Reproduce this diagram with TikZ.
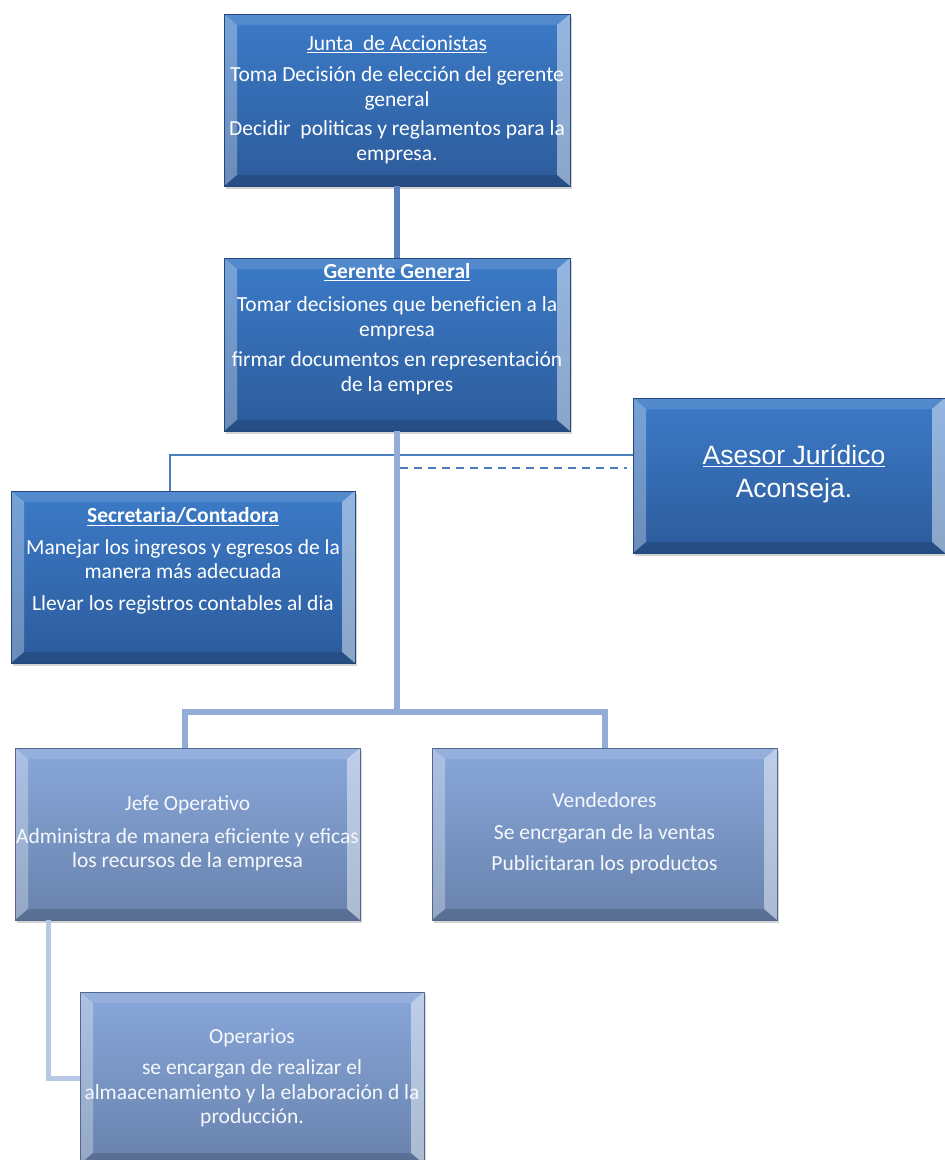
\documentclass[tikz,border=0pt]{standalone}
\usepackage{fontspec}
\setmainfont{Carlito}
\newfontfamily\arialfont{Liberation Sans}
\usetikzlibrary{positioning,shadows}

\definecolor{darktop}{HTML}{3C7BC8}
\definecolor{darkbot}{HTML}{2C5B9B}
\definecolor{lighttop}{HTML}{88A7DA}
\definecolor{lightbot}{HTML}{6882AC}
\definecolor{toplinkc}{HTML}{5B80BF}
\definecolor{trunkc}{HTML}{93ADD7}
\definecolor{sidec}{HTML}{B6C8E6}
\definecolor{thinc}{HTML}{4A7EBF}

\tikzset{
  bevel/.style={path picture={
    \path (path picture bounding box.north west) coordinate (a1)
          ([xshift=13pt,yshift=-11pt]path picture bounding box.north west) coordinate (a2)
          (path picture bounding box.north east) coordinate (b1)
          ([xshift=-13pt,yshift=-11pt]path picture bounding box.north east) coordinate (b2)
          (path picture bounding box.south east) coordinate (c1)
          ([xshift=-13pt,yshift=11pt]path picture bounding box.south east) coordinate (c2)
          (path picture bounding box.south west) coordinate (d1)
          ([xshift=13pt,yshift=11pt]path picture bounding box.south west) coordinate (d2);
    \fill[white,opacity=.12] (a1) -- (b1) -- (b2) -- (a2) -- cycle;
    \fill[white,opacity=.3] (a1) -- (a2) -- (d2) -- (d1) -- cycle;
    \fill[white,opacity=.45] (b1) -- (c1) -- (c2) -- (b2) -- cycle;
    \fill[black,opacity=.15] (d1) -- (d2) -- (c2) -- (c1) -- cycle;
  }},
  darkbox/.style={rectangle, bevel, top color=darktop, bottom color=darkbot,
    draw=darkbot!80!black, line width=.6pt, inner sep=0pt,
    drop shadow={opacity=.35, shadow xshift=2pt, shadow yshift=-3pt}},
  lightbox/.style={rectangle, bevel, top color=lighttop, bottom color=lightbot,
    draw=lightbot!80!black, line width=.6pt, inner sep=0pt,
    drop shadow={opacity=.35, shadow xshift=2pt, shadow yshift=-3pt}},
  boxtext/.style={align=center, text=white, inner sep=0pt, font=\fontsize{21.5}{24.5}\selectfont},
  lighttext/.style={boxtext, text=white!92!lighttop},
  toplink/.style={draw=toplinkc, line width=6pt},
  trunk/.style={draw=trunkc, line width=6pt},
  sidelink/.style={draw=sidec, line width=5pt},
  thinlink/.style={draw=thinc, line width=2pt},
  dashlink/.style={draw=thinc, line width=2.2pt, dash pattern=on 8pt off 6pt}
}

\begin{document}
\begin{tikzpicture}[x=1pt, y=-1pt]
\useasboundingbox (0,0) rectangle (945,1160);

% cajas
\node[darkbox, minimum width=346pt, minimum height=172pt] (junta) at (397,100) {};
\node[darkbox, minimum width=346pt, minimum height=173pt] (gerente) at (397,344.5) {};
\node[darkbox, minimum width=312pt, minimum height=155pt] (asesor) at (789,475.5) {};
\node[darkbox, minimum width=344pt, minimum height=172pt] (secretaria) at (183,577) {};
\node[lightbox, minimum width=345pt, minimum height=172pt] (jefe) at (187.5,834) {};
\node[lightbox, minimum width=345pt, minimum height=172pt] (vendedores) at (604.5,834) {};
\node[lightbox, minimum width=344pt, minimum height=172pt] (operarios) at (252,1078) {};

% textos
\node[boxtext] (juntaT) at (397,99.5) {\underline{Junta\ \ de Accionistas}\\[7pt]
  Toma Decisión de elección del gerente\\ general\\[5pt]
  Decidir\ \ politicas y reglamentos para la\\ empresa.};
\node[boxtext] (gerenteT) at (397,329) {\underline{\textbf{Gerente General}}\\[9pt]
  Tomar decisiones que beneficien a la\\ empresa\\[6pt]
  firmar documentos en representación\\ de la empres};
\node[boxtext, font=\arialfont\fontsize{26.5}{33}\selectfont] (asesorT) at (794,474)
  {\underline{Asesor Jurídico}\\ Aconseja.};
\node[boxtext] (secretariaT) at (183,561) {\underline{\textbf{Secretaria/Contadora}}\\[7pt]
  Manejar los ingresos y egresos de la\\ manera más adecuada\\[7pt]
  Llevar los registros contables al dia};
\node[lighttext] (jefeT) at (187.5,833.5) {Jefe Operativo\\[8pt]
  Administra de manera eficiente y eficas\\ los recursos de la empresa};
\node[lighttext] (vendedoresT) at (604.5,833.5) {Vendedores\\[7pt]
  Se encrgaran de la ventas\\[7pt] Publicitaran los productos};
\node[lighttext] (operariosT) at (252,1078) {Operarios\\[7pt]
  se encargan de realizar el\\ almaacenamiento y la elaboración d la\\ producción.};

% conectores
\draw[toplink] (junta.south) -- (gerente.north);
\draw[thinlink] ([yshift=20.5pt]asesor.west) -| ([xshift=-13pt]secretaria.north);
\draw[dashlink] ([xshift=3pt,yshift=7.5pt]gerente.south |- asesor.west) -- ([xshift=-6pt,yshift=7.5pt]asesor.west);
\draw[trunk] (gerente.south) -- ++(0,281) coordinate (split);
\draw[trunk] ([xshift=-2.5pt]jefe.north) |- (split) -| (vendedores.north);
\draw[sidelink] ([xshift=-139.5pt]jefe.south) |- (operarios.west);
\end{tikzpicture}
\end{document}
